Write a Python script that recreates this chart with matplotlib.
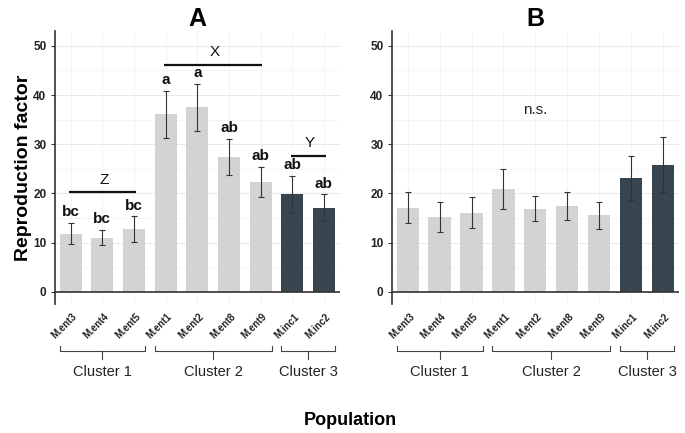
import matplotlib
matplotlib.use("Agg")
import matplotlib.pyplot as plt
import matplotlib.transforms as mtransforms
import numpy as np

plt.rcParams['font.family'] = ['Liberation Sans', 'DejaVu Sans']

populations = ["M.ent3", "M.ent4", "M.ent5", "M.ent1", "M.ent2", "M.ent8", "M.ent9", "M.inc1", "M.inc2"]
cluster_of = [1, 1, 1, 2, 2, 2, 2, 3, 3]
clusters = ["Cluster 1", "Cluster 2", "Cluster 3"]

rf_a = [11.8, 11.0, 12.8, 36.1, 37.5, 27.4, 22.3, 19.8, 17.1]
err_a = [2.2, 1.6, 2.6, 4.8, 4.8, 3.7, 3.1, 3.8, 2.7]
letters_a = ["bc", "bc", "bc", "a", "a", "ab", "ab", "ab", "ab"]

rf_b = [17.1, 15.2, 16.1, 20.9, 16.9, 17.4, 15.5, 23.2, 25.8]
err_b = [3.1, 3.0, 3.2, 4.0, 2.5, 2.9, 2.8, 4.5, 5.6]

# group brackets in panel A: (label, first bar, last bar, height)
groups_a = [("Z", 0, 2, 20.2), ("X", 3, 6, 46.2), ("Y", 7, 8, 27.7)]

yticks = [0, 10, 20, 30, 40, 50]

light = "#d3d3d3"
dark = "#36454f"

fig = plt.figure(figsize=(6.85, 4.33), dpi=100)
axA = fig.add_axes([0.080, 0.298, 0.416, 0.630])
axB = fig.add_axes([0.572, 0.298, 0.419, 0.630])

x = np.arange(len(populations))
colors = [dark if c == 3 else light for c in cluster_of]


def style(ax, vals, errs, title):
    ax.set_xlim(-0.5, len(populations) - 0.5)
    ax.set_ylim(-2.5, 53)
    for yv in yticks:
        ax.axhline(yv, color="#e6e6e6", lw=0.6, zorder=0)
    for yv in np.arange(5, 55, 10):
        ax.axhline(yv, color="#f1f1f1", lw=0.5, zorder=0)
    for xv in x:
        ax.axvline(xv, color="#eeeeee", lw=0.5, zorder=0)
    ax.bar(x, vals, width=0.7, color=colors, zorder=2)
    ax.errorbar(x, vals, yerr=errs, fmt="none", ecolor="#333333",
                elinewidth=0.8, capsize=2.5, capthick=0.8, zorder=3)
    ax.axhline(0, color="#333333", lw=1.2, zorder=4)
    for s in ["top", "right", "bottom"]:
        ax.spines[s].set_visible(False)
    ax.spines["left"].set_color("#333333")
    ax.spines["left"].set_linewidth(1.2)
    ax.set_yticks(yticks)
    ax.set_yticklabels([str(v) for v in yticks], fontsize=8.5, fontweight="bold",
                       color="#222222")
    ax.tick_params(axis="y", length=3, width=0.8, color="#333333", pad=3)
    ax.set_xticks(x)
    ax.set_xticklabels(populations, rotation=45, ha="right", va="center",
                       rotation_mode="anchor", fontsize=7, fontweight="bold",
                       color="#222222")
    ax.tick_params(axis="x", length=0, pad=8)
    offset = mtransforms.ScaledTranslation(5 / 100, 0, fig.dpi_scale_trans)
    for lab in ax.get_xticklabels():
        lab.set_transform(lab.get_transform() + offset)
    ax.set_title(title, fontsize=18, fontweight="bold", pad=3)
    # cluster brackets
    for ci, cname in enumerate(clusters):
        idx = [i for i, c in enumerate(cluster_of) if c == ci + 1]
        x0, x1 = idx[0] - 0.35, idx[-1] + 0.35
        xm = (x0 + x1) / 2
        kw = dict(color="#444444", lw=0.8, clip_on=False)
        ax.plot([x0, x0, x1, x1], [-11.0, -12.0, -12.0, -11.0], **kw)
        ax.plot([xm, xm], [-12.0, -13.6], **kw)
        ax.text(xm, -16.4, cname, ha="center", va="center", fontsize=10.5,
                color="#222222", clip_on=False)


style(axA, rf_a, err_a, "A")
style(axB, rf_b, err_b, "B")

for i, (v, e, lt) in enumerate(zip(rf_a, err_a, letters_a)):
    axA.text(i, v + e + 0.7, lt, ha="center", va="bottom", fontsize=11,
             fontweight="bold", color="#111111", zorder=5)

for name, i0, i1, h in groups_a:
    pad = 0.05
    axA.plot([i0 - pad, i1 + pad], [h, h], color="#111111", lw=1.6, zorder=5,
             solid_capstyle="butt")
    axA.text((i0 + i1) / 2 + 0.05, h + 1.1, name, ha="center", va="bottom",
             fontsize=11, color="#111111", zorder=5)

axB.text(4, 37.0, "n.s.", ha="center", va="center", fontsize=11, color="#222222")

axA.set_ylabel("Reproduction factor", fontsize=14, fontweight="bold", labelpad=1)
fig.text(0.512, 0.03, "Population", ha="center", va="center", fontsize=13,
         fontweight="bold")

fig.savefig("out.png", dpi=100, facecolor="white")
